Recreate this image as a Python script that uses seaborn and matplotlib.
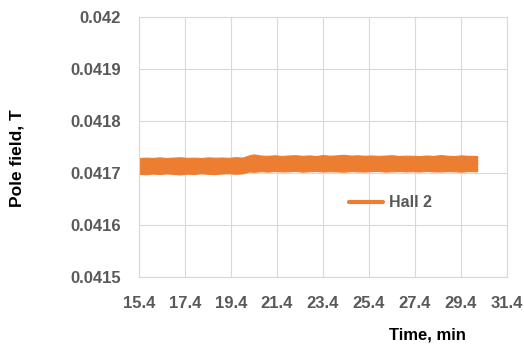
import matplotlib
matplotlib.use("Agg")
import matplotlib.pyplot as plt
import seaborn as sns
import pandas as pd

# Hall 2 pole-field trace, recorded as the upper and lower envelope of the signal
time_min = [15.4, 15.7, 16.0, 16.3, 16.6, 16.9, 17.2, 17.5, 17.8, 18.1, 18.4, 18.7,
            19.0, 19.3, 19.6, 19.9,
            20.2, 20.4, 20.7, 21.0, 21.3, 21.6, 21.9, 22.2, 22.5, 22.8, 23.1, 23.4,
            23.7, 24.0, 24.3, 24.6, 24.9, 25.2, 25.5, 25.8, 26.1, 26.4, 26.7, 27.0,
            27.3, 27.6, 27.9, 28.2, 28.5, 28.8, 29.1, 29.4, 29.7, 30.1]
field_upper = [0.0417285, 0.0417295, 0.0417290, 0.0417300, 0.0417288, 0.0417296,
               0.0417302, 0.0417290, 0.0417295, 0.0417287, 0.0417300, 0.0417293,
               0.0417298, 0.0417291, 0.0417304, 0.0417296,
               0.0417340, 0.0417358, 0.0417335, 0.0417330, 0.0417340, 0.0417328,
               0.0417336, 0.0417342, 0.0417330, 0.0417338, 0.0417326, 0.0417345,
               0.0417332, 0.0417339, 0.0417350, 0.0417334, 0.0417340, 0.0417331,
               0.0417337, 0.0417329, 0.0417335, 0.0417341, 0.0417328, 0.0417333,
               0.0417330, 0.0417325, 0.0417336, 0.0417328, 0.0417344, 0.0417332,
               0.0417326, 0.0417339, 0.0417331, 0.0417327]
field_lower = [0.0416985, 0.0416975, 0.0416990, 0.0416980, 0.0416992, 0.0416982,
               0.0416972, 0.0416988, 0.0416980, 0.0416995, 0.0416984, 0.0416978,
               0.0416990, 0.0416996, 0.0416985, 0.0416992,
               0.0417030, 0.0417022, 0.0417035, 0.0417026, 0.0417038, 0.0417029,
               0.0417032, 0.0417040, 0.0417025, 0.0417033, 0.0417039, 0.0417028,
               0.0417034, 0.0417030, 0.0417024, 0.0417036, 0.0417031, 0.0417027,
               0.0417035, 0.0417039, 0.0417026, 0.0417032, 0.0417037, 0.0417030,
               0.0417034, 0.0417028, 0.0417039, 0.0417031, 0.0417029, 0.0417036,
               0.0417033, 0.0417025, 0.0417035, 0.0417032]

x_ticks = [15.4, 17.4, 19.4, 21.4, 23.4, 25.4, 27.4, 29.4, 31.4]
y_ticks = [0.0415, 0.0416, 0.0417, 0.0418, 0.0419, 0.042]
y_tick_labels = ["0.0415", "0.0416", "0.0417", "0.0418", "0.0419", "0.042"]
series_name = "Hall 2"

ORANGE = "#ED7D31"
GRID = "#D9D9D9"
TEXT = "#595959"

sns.set_style("white")
plt.rcParams["font.family"] = ["Liberation Sans", "DejaVu Sans"]

df = pd.DataFrame({
    "Time": time_min + time_min,
    "Field": field_upper + field_lower,
    "Series": [series_name] * (2 * len(time_min)),
})

fig = plt.figure(figsize=(5.24, 3.46), dpi=100)
ax = fig.add_axes([0.265, 0.1994, 0.7026, 0.7516])

sns.lineplot(data=df, x="Time", y="Field", hue="Series", palette=[ORANGE],
             estimator="mean", errorbar=("pi", 100),
             err_kws={"alpha": 1.0, "linewidth": 0.8, "edgecolor": ORANGE},
             linewidth=2, ax=ax)

ax.set_xlim(x_ticks[0], x_ticks[-1])
ax.set_ylim(y_ticks[0], y_ticks[-1])
ax.set_xticks(x_ticks)
ax.set_xticklabels([f"{t:.1f}" for t in x_ticks])
ax.set_yticks(y_ticks)
ax.set_yticklabels(y_tick_labels)

ax.grid(True, color=GRID, linewidth=0.8)
ax.set_axisbelow(True)
for s in ax.spines.values():
    s.set_color(GRID)
    s.set_linewidth(0.8)

ax.tick_params(axis="both", length=0, colors=TEXT, labelsize=12)
ax.tick_params(axis="y", pad=13)
ax.tick_params(axis="x", pad=14)
for lab in ax.get_xticklabels() + ax.get_yticklabels():
    lab.set_fontweight("bold")

ax.set_xlabel("Time, min", fontsize=12, fontweight="bold", color="black")
ax.set_ylabel("Pole field, T", fontsize=12.5, fontweight="bold", color="black")
ax.xaxis.set_label_coords(0.783, -0.196)
ax.yaxis.set_label_coords(-0.31, 0.458)

leg = ax.legend(loc="center left", bbox_to_anchor=(0.572, 0.285), frameon=False,
                borderpad=0, borderaxespad=0,
                handlelength=2.1, handletextpad=0.35, fontsize=11.5)
for t in leg.get_texts():
    t.set_fontweight("bold")
    t.set_color(TEXT)
for h in leg.legend_handles:
    h.set_linewidth(3)

fig.savefig("out.png", dpi=100)
